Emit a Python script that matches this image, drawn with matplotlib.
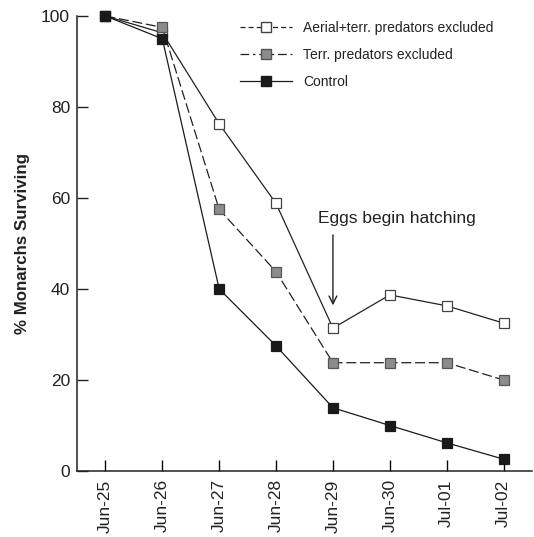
import matplotlib
matplotlib.use('Agg')
import matplotlib.pyplot as plt
from matplotlib.lines import Line2D

plt.rcParams['font.family'] = ['Liberation Sans', 'DejaVu Sans']

dates = ['Jun-25', 'Jun-26', 'Jun-27', 'Jun-28', 'Jun-29', 'Jun-30', 'Jul-01', 'Jul-02']
aerial = [100, 96.3, 76.3, 58.8, 31.4, 38.7, 36.3, 32.5]
terr = [100, 97.5, 57.5, 43.8, 23.8, 23.8, 23.8, 20.0]
control = [100, 95.0, 40.0, 27.5, 13.9, 10.0, 6.2, 2.6]

x = list(range(len(dates)))

fig = plt.figure(figsize=(5.34, 5.37), dpi=100)
ax = fig.add_axes([77/534, 66/537, 455/534, 455/537])

ms = 7
ax.plot(x, aerial, '-', color='#222222', lw=0.9, marker='s', ms=ms,
        mfc='white', mec='#444444', mew=0.9, clip_on=False, zorder=3)
ax.plot(x, terr, '--', color='#222222', lw=0.9, dashes=(8, 3), marker='s', ms=ms,
        mfc='#8c8c8c', mec='#555555', mew=0.9, clip_on=False, zorder=3)
ax.plot(x, control, '-', color='#1a1a1a', lw=0.9, marker='s', ms=ms,
        mfc='#1a1a1a', mec='#1a1a1a', mew=0.9, clip_on=False, zorder=4)

ax.set_xlim(-0.5, 7.5)
ax.set_ylim(0, 100)
ax.set_xticks(x)
ax.set_xticklabels(dates, rotation=90, fontsize=12.5, color='#222222')
ax.set_yticks([0, 20, 40, 60, 80, 100])
ax.tick_params(axis='y', direction='in', length=8, width=1, labelsize=12.5, colors='#222222', pad=5)
ax.tick_params(axis='x', direction='in', length=8, width=1, pad=6)
for s in ['top', 'right']:
    ax.spines[s].set_visible(False)
for s in ['left', 'bottom']:
    ax.spines[s].set_linewidth(1.1)
    ax.spines[s].set_color('#222222')

ax.set_ylabel('% Monarchs Surviving', fontsize=12.2, fontweight='bold', color='#222222', labelpad=8)

ax.annotate('', xy=(4, 35.8), xytext=(4, 52.5),
            arrowprops=dict(arrowstyle='->', color='#222222', lw=1, mutation_scale=14))
ax.text(3.74, 55.5, 'Eggs begin hatching', fontsize=12.5, color='#222222', ha='left', va='center')

handles = [
    Line2D([], [], color='#222222', lw=0.9, dashes=(4, 2.5), marker='s', ms=ms,
           mfc='white', mec='#444444'),
    Line2D([], [], color='#222222', lw=0.9, dashes=(7, 3, 2, 3), marker='s', ms=ms,
           mfc='#8c8c8c', mec='#555555'),
    Line2D([], [], color='#1a1a1a', lw=0.9, marker='s', ms=ms,
           mfc='#1a1a1a', mec='#1a1a1a'),
]
labels = ['Aerial+terr. predators excluded', 'Terr. predators excluded', 'Control']
leg = fig.legend(handles, labels, loc='upper left', bbox_to_anchor=(234/534, 1 - 15/537),
                 frameon=False, fontsize=10, handlelength=3.8, handletextpad=0.8,
                 labelspacing=0.95, borderaxespad=0)
for t in leg.get_texts():
    t.set_color('#222222')

fig.savefig('out.png', dpi=100)
